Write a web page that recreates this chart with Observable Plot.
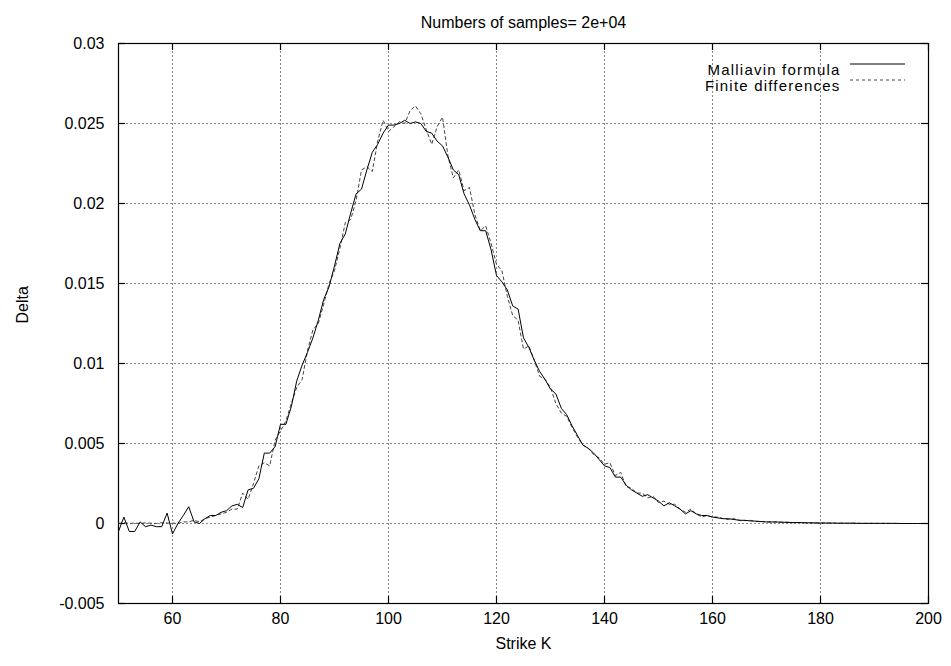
<!DOCTYPE html>
<html><head><meta charset="utf-8">
<script src="https://cdn.jsdelivr.net/npm/d3@7"></script>
<script src="https://cdn.jsdelivr.net/npm/@observablehq/plot@0.6"></script>
<style>body{margin:0;background:#fff} svg{display:block}</style>
</head><body><div id="chart"></div>
<script>
const strikes = [50,51,52,53,54,55,56,57,58,59,60,61,62,63,64,65,66,67,68,69,70,71,72,73,74,75,76,77,78,79,80,81,82,83,84,85,86,87,88,89,90,91,92,93,94,95,96,97,98,99,100,101,102,103,104,105,106,107,108,109,110,111,112,113,114,115,116,117,118,119,120,121,122,123,124,125,126,127,128,129,130,131,132,133,134,135,136,137,138,139,140,141,142,143,144,145,146,147,148,149,150,151,152,153,154,155,156,157,158,159,160,161,162,163,164,165,166,167,168,169,170,171,172,173,174,175,176,177,178,179,180,181,182,183,184,185,186,187,188,189,190,191,192,193,194,195,196,197,198,199,200];

const malliavin = [
-0.0005,0.0004,-0.0005,-0.0005,0.0001,-0.0002,-0.0001,-0.0002,-0.0002,0.00065,
-0.00065,0.0,0.0005,0.00105,0.0001,0.0,0.0003,0.0005,0.0005,0.0007,
0.0008,0.0011,0.0012,0.001,0.0021,0.0022,0.0028,0.0044,0.0044,0.0048,
0.0062,0.0062,0.0073,0.0089,0.0099,0.0107,0.0116,0.0127,0.014,0.0148,
0.0161,0.0175,0.0181,0.0194,0.0206,0.0209,0.0221,0.0232,0.0237,0.0244,
0.0249,0.0249,0.025,0.0252,0.025,0.0251,0.025,0.0245,0.0244,0.0239,
0.0236,0.0229,0.0221,0.0218,0.0206,0.0199,0.019,0.0183,0.0183,0.0171,
0.0155,0.0151,0.0146,0.0136,0.0134,0.0116,0.011,0.0102,0.0095,0.009,
0.0084,0.0081,0.0072,0.0068,0.0061,0.0055,0.0049,0.0047,0.0044,0.004,
0.0036,0.0035,0.0029,0.0029,0.0024,0.0021,0.0019,0.0017,0.0018,0.0016,
0.0014,0.0011,0.0013,0.0011,0.0009,0.0006,0.0008,0.0006,0.0005,0.0005,
0.0004,0.00035,0.0003,0.0003,0.00025,0.0002,0.0002,0.00016,0.00015,0.00012,
0.0001,0.0001,0.00009,0.00008,0.00007,0.00006,0.00006,0.00005,0.00004,0.00004,
0.00003,0.00003,0.00003,0.00002,0.00002,0.00002,0.00002,0.00001,0.00001,0.00001,
0.00001,0.00001,0.00001,0.00001,0.00001,0.0,0.0,0.0,0.0,0.0,0.0
];

const finiteDiff = [
0.0,0.00005,0.0,0.00003,0.0,0.00004,0.00002,0.0,0.00005,0.00003,
0.00002,0.0,0.0001,0.0001,0.0002,0.0001,0.0003,0.0004,0.0005,0.0006,
0.0007,0.0009,0.0009,0.0019,0.0015,0.0025,0.0036,0.0038,0.0036,0.0052,
0.0058,0.0064,0.0075,0.0085,0.009,0.0108,0.0121,0.0125,0.0137,0.015,
0.0158,0.0172,0.0188,0.019,0.0202,0.0221,0.0223,0.022,0.0239,0.0252,
0.0245,0.0248,0.0251,0.025,0.0258,0.0261,0.0256,0.0246,0.0237,0.0248,
0.0254,0.023,0.0216,0.0221,0.0208,0.021,0.0193,0.0183,0.0186,0.0175,
0.0162,0.0158,0.0142,0.013,0.0127,0.0109,0.0111,0.0102,0.0092,0.009,
0.0085,0.0075,0.0069,0.0067,0.006,0.0054,0.0049,0.0047,0.0043,0.0041,
0.0037,0.0038,0.003,0.0032,0.0023,0.0022,0.0019,0.0019,0.0016,0.0017,
0.0013,0.0014,0.0012,0.0012,0.0009,0.0007,0.0009,0.0006,0.0004,0.0005,
0.0004,0.0004,0.0003,0.00025,0.0003,0.0002,0.00018,0.0002,0.00012,0.00013,
0.0001,0.00009,0.0001,0.00007,0.00008,0.00005,0.00006,0.00004,0.00005,0.00003,
0.00003,0.00003,0.00002,0.00002,0.00002,0.00001,0.00002,0.00001,0.00001,0.00001,
0.00001,0.0,0.00001,0.0,0.0,0.0,0.0,0.0,0.0,0.0,0.0
];

const xTicks = [60, 80, 100, 120, 140, 160, 180, 200];
const xTickLabels = ["60", "80", "100", "120", "140", "160", "180", "200"];
const xGrid = [60, 80, 100, 120, 140, 160, 180];
const yTicks = [-0.005, 0, 0.005, 0.01, 0.015, 0.02, 0.025, 0.03];
const yTickLabels = ["-0.005", "0", "0.005", "0.01", "0.015", "0.02", "0.025", "0.03"];
const yGrid = [0, 0.005, 0.01, 0.015, 0.02, 0.025];
const seriesNames = ["Malliavin formula", "Finite differences"];
const titleText = "Numbers of samples= 2e+04";
const xLabel = "Strike K";
const yLabel = "Delta";

const mallData = strikes.map((k, i) => ({k, v: malliavin[i]}));
const fdData = strikes.map((k, i) => ({k, v: finiteDiff[i]}));

const W = 951, H = 666;
const mL = 118, mR = 23, mT = 43, mB = 63;
const pw = W - mL - mR, ph = H - mT - mB, tl = 7;
const font = "'Liberation Sans', Arial, Helvetica, sans-serif";

const chart = Plot.plot({
  width: W, height: H,
  marginLeft: mL, marginRight: mR, marginTop: mT, marginBottom: mB,
  style: {fontFamily: font, fontSize: "16px", color: "#000", background: "#fff"},
  x: {domain: [50, 200]},
  y: {domain: [-0.005, 0.03]},
  marks: [
    Plot.gridX(xGrid, {stroke: "#888", strokeOpacity: 1, strokeDasharray: "2,2"}),
    Plot.gridY(yGrid, {stroke: "#888", strokeOpacity: 1, strokeDasharray: "2,2"}),
    Plot.axisX(xTicks, {anchor: "bottom", tickSize: 0, tickPadding: 9, tickFormat: (d, i) => xTickLabels[i], label: null, fontSize: 16}),
    Plot.axisY(yTicks, {anchor: "left", tickSize: 0, tickPadding: 14, tickFormat: (d, i) => yTickLabels[i], label: null, fontSize: 16}),
    Plot.tickX(xTicks, {x: d => d, stroke: "#000", strokeWidth: 1.2, insetTop: ph - tl}),
    Plot.tickX(xTicks, {x: d => d, stroke: "#000", strokeWidth: 1.2, insetBottom: ph - tl}),
    Plot.tickY(yTicks, {y: d => d, stroke: "#000", strokeWidth: 1.2, insetRight: pw - tl}),
    Plot.tickY(yTicks, {y: d => d, stroke: "#000", strokeWidth: 1.2, insetLeft: pw - tl}),
    Plot.line(fdData, {x: "k", y: "v", stroke: "#444", strokeWidth: 1, strokeDasharray: "3,3"}),
    Plot.line(mallData, {x: "k", y: "v", stroke: "#000", strokeWidth: 1}),
    Plot.frame({stroke: "#000", strokeWidth: 1.2}),
    Plot.text([titleText], {frameAnchor: "top", dy: -27, fontSize: 16, text: d => d}),
    Plot.text([xLabel], {frameAnchor: "bottom", dy: 45, fontSize: 16, text: d => d}),
    Plot.text([yLabel], {frameAnchor: "left", dx: -96, rotate: -90, fontSize: 16, text: d => d}),
    Plot.text([seriesNames[0]], {frameAnchor: "top-right", dx: -88, dy: 21, textAnchor: "end", fontSize: 15, text: d => d}),
    Plot.text([seriesNames[1]], {frameAnchor: "top-right", dx: -88, dy: 37, textAnchor: "end", fontSize: 15, text: d => d})
  ]
});

const svg = d3.select(chart);
svg.selectAll("text").filter(function() { return seriesNames.includes(this.textContent); })
  .attr("letter-spacing", "1.2px").style("letter-spacing", "1.2px");

const xr = W - mR;
svg.append("line").attr("x1", xr - 78).attr("x2", xr - 23).attr("y1", mT + 21).attr("y2", mT + 21)
  .attr("stroke", "#000").attr("stroke-width", 1);
svg.append("line").attr("x1", xr - 78).attr("x2", xr - 23).attr("y1", mT + 37).attr("y2", mT + 37)
  .attr("stroke", "#444").attr("stroke-width", 1).attr("stroke-dasharray", "3,3");

document.getElementById("chart").appendChild(chart);
</script>
</body></html>
